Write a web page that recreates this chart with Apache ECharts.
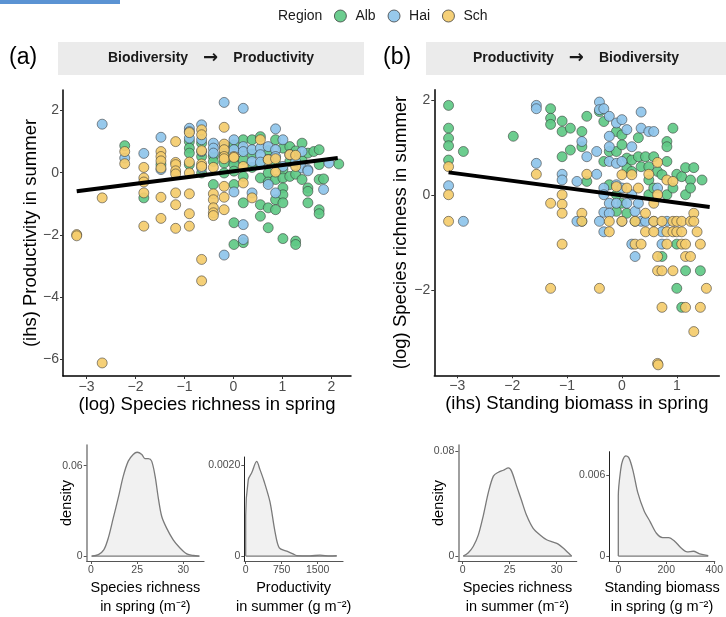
<!DOCTYPE html>
<html><head><meta charset="utf-8">
<script src="https://cdn.jsdelivr.net/npm/echarts@6/dist/echarts.min.js"></script>
<style>html,body{margin:0;padding:0;background:#fff}#c{width:726px;height:617px}</style>
</head><body><div id="c"></div>
<script>
// ---------- data ----------
const regions = ['Alb', 'Hai', 'Sch'];
const regionColors = ['#5FC986', '#8EC4EA', '#F4CC6C'];

// Panel (a): (log) species richness in spring vs (ihs) productivity in summer
const albA = [[-2.22,0.87],[-1.83,-0.81],[-1.48,0.26],[-0.90,1.0],[-0.90,0.79],[-0.90,0.63],[-0.90,0.26],[-0.65,0.95],[-0.65,0.52],[-0.65,-0.01],[-0.41,0.52],[-0.41,0.36],[-0.41,-0.38],[-0.19,0.31],[-0.19,-0.01],[-0.19,0.6],[0.01,0.9],[0.01,0.42],[0.01,0.26],[0.01,0.05],[0.01,-0.38],[0.01,-1.61],[0.01,-2.31],[0.2,1.06],[0.2,0.7],[0.2,0.42],[0.2,-0.12],[0.2,-0.97],[0.2,-2.25],[0.38,1.06],[0.38,0.6],[0.38,0.17],[0.55,1.16],[0.55,0.3],[0.55,-0.17],[0.55,-1.4],[0.55,-1.03],[0.71,0.71],[0.71,-0.01],[0.71,-0.3],[0.71,-1.77],[0.71,-1.13],[0.86,1.06],[0.86,0.3],[0.86,-0.22],[0.86,-0.87],[0.86,-1.19],[1.01,0.79],[1.01,0.1],[1.01,-0.17],[1.01,-0.49],[1.01,-0.71],[1.01,-0.97],[1.01,-2.12],[1.15,0.84],[1.15,0.36],[1.15,-0.12],[1.27,0.7],[1.27,-0.05],[1.27,-2.2],[1.27,-2.31],[1.4,0.95],[1.4,0.4],[1.4,-0.22],[1.52,0.63],[1.52,-0.49],[1.52,-0.6],[1.52,-0.97],[1.64,0.68],[1.75,0.74],[1.75,0.26],[1.75,-0.22],[1.75,-1.19],[1.75,-1.32],[1.84,-0.2],[2.15,0.28]];
const haiA = [[-2.68,1.56],[-2.22,0.47],[-1.83,0.62],[-1.48,1.14],[-1.48,0.1],[-0.90,1.43],[-0.90,1.32],[-0.90,1.11],[-0.65,1.54],[-0.65,1.06],[-0.65,0.68],[-0.65,0.15],[-0.41,0.95],[-0.41,0.79],[-0.41,0.63],[-0.19,2.26],[-0.19,0.84],[-0.19,-2.65],[0.01,1.06],[0.01,0.74],[0.01,-0.62],[0.2,2.07],[0.2,0.84],[0.2,0.68],[0.2,-1.67],[0.2,-2.15],[0.38,0.74],[0.38,0.36],[0.38,-0.65],[0.55,0.79],[0.55,0.58],[0.55,0.34],[0.71,0.84],[0.71,0.42],[0.71,-0.38],[0.86,1.41],[0.86,0.74],[0.86,0.52],[0.86,-0.65],[1.01,1.06],[1.01,0.2],[1.15,0.58],[1.27,0.36],[1.4,0.68],[1.4,0.15],[1.52,0.1],[1.52,0.06],[1.84,-0.54],[1.95,0.31]];
const schA = [[-3.2,-1.99],[-3.2,-2.03],[-2.68,-0.81],[-2.68,-6.12],[-2.22,0.68],[-2.22,0.29],[-1.83,0.17],[-1.83,-0.17],[-1.83,-0.30],[-1.83,-0.65],[-1.83,-1.72],[-1.48,0.68],[-1.48,0.52],[-1.48,0.38],[-1.48,0.15],[-1.48,-0.79],[-1.48,-1.47],[-1.18,1.0],[-1.18,0.33],[-1.18,0.26],[-1.18,0.06],[-1.18,-0.04],[-1.18,-0.65],[-1.18,-1.03],[-1.18,-1.79],[-0.90,1.29],[-0.90,0.34],[-0.90,-0.01],[-0.90,-0.68],[-0.90,-1.32],[-0.90,-1.72],[-0.65,1.38],[-0.65,1.22],[-0.65,0.71],[-0.65,0.28],[-0.65,0.2],[-0.65,-2.79],[-0.65,-3.48],[-0.41,0.17],[-0.41,-0.68],[-0.41,-0.87],[-0.41,-1.13],[-0.41,-1.29],[-0.41,-1.38],[-0.19,1.46],[-0.19,0.92],[-0.19,0.74],[-0.19,0.52],[-0.19,0.45],[-0.19,-0.44],[-0.19,-0.79],[-0.19,-1.19],[0.01,0.52],[0.01,0.49],[0.2,0.2],[0.2,-0.33],[0.38,-0.81],[0.55,1.06],[0.71,0.42],[0.86,0.45],[0.86,0.02],[1.15,0.58],[1.27,0.56],[1.27,0.2]];
const fitA = [[-3.2,-0.6],[2.13,0.47]];

// Panel (b): (ihs) standing biomass in spring vs (log) species richness in summer
const albB = [[-3.16,1.89],[-3.16,1.41],[-3.16,1.2],[-3.16,1.04],[-3.16,0.74],[-2.89,0.92],[-1.98,1.24],[-1.30,1.82],[-1.30,1.62],[-1.30,1.49],[-1.09,1.56],[-1.09,1.34],[-1.09,0.81],[-0.94,1.41],[-0.94,0.95],[-0.73,1.34],[-0.73,1.02],[-0.73,-0.55],[-0.64,1.66],[-0.64,0.29],[-0.41,1.76],[-0.33,1.55],[-0.33,0.71],[-0.23,0.92],[-0.23,0.22],[-0.10,1.34],[-0.10,0.92],[-0.10,0.01],[-0.10,-0.34],[0,1.27],[0,1.06],[0,-0.17],[0.09,0.78],[0.09,0.57],[0.09,-0.38],[0.18,0.74],[0.18,0.5],[0.24,-0.55],[0.30,1.21],[0.30,0.81],[0.35,0.6],[0.43,0.81],[0.49,0.6],[0.49,0.32],[0.49,0.01],[0.58,0.81],[0.58,0.15],[0.65,0.5],[0.73,0.43],[0.73,-1.29],[0.82,1.13],[0.82,1.02],[0.82,0.71],[0.82,0.01],[0.93,1.41],[0.93,0.15],[1.0,0.44],[1.0,-1.03],[1.0,-1.96],[1.09,0.39],[1.09,-2.36],[1.16,0.58],[1.16,0.01],[1.16,-1.59],[1.25,0.32],[1.25,0.15],[1.31,0.58],[1.43,-1.59],[1.46,0.32]];
const haiB = [[-3.16,0.2],[-2.89,-0.55],[-1.56,1.89],[-1.56,1.82],[-1.56,0.67],[-1.09,0.44],[-1.09,0.32],[-0.82,0.29],[-0.82,-0.55],[-0.73,1.13],[-0.64,0.81],[-0.46,0.92],[-0.46,0.44],[-0.41,1.96],[-0.41,1.8],[-0.41,-0.55],[-0.33,1.82],[-0.33,0.15],[-0.33,0.01],[-0.33,-0.36],[-0.33,-0.77],[-0.23,1.66],[-0.23,1.24],[-0.23,1.02],[-0.23,0.71],[-0.23,-0.17],[-0.23,-0.38],[-0.10,1.52],[-0.10,0.67],[-0.10,-0.17],[-0.10,0.22],[0,1.59],[0,0.71],[0,0.15],[0,-0.55],[0.09,1.38],[0.09,-0.17],[0.18,1.02],[0.18,0.01],[0.18,-1.03],[0.24,-1.29],[0.24,-0.34],[0.30,-0.17],[0.35,1.75],[0.35,1.41],[0.35,-0.55],[0.43,-0.55],[0.49,1.34],[0.58,1.34],[0.58,-0.55],[0.65,0.15],[0.73,-0.77],[0.73,-1.03],[0.82,-0.55]];
const schB = [[-3.16,0.6],[-3.16,0.01],[-3.16,-0.55],[-1.56,0.44],[-1.30,-0.17],[-1.30,-1.96],[-1.09,0.01],[-1.09,-0.19],[-1.09,-0.38],[-1.09,-1.03],[-0.73,-0.38],[-0.73,-0.55],[-0.64,0.44],[-0.41,-1.96],[-0.23,-0.55],[-0.23,-0.77],[-0.10,0.18],[0,0.43],[0,-0.55],[0.09,0.15],[0.18,0.43],[0.24,-1.03],[0.24,-0.55],[0.30,0.15],[0.35,-1.03],[0.43,-0.38],[0.43,-0.77],[0.49,0.44],[0.58,-0.77],[0.58,-0.17],[0.58,-0.55],[0.65,0.69],[0.65,0.01],[0.65,-1.29],[0.65,-1.59],[0.65,-3.54],[0.66,-3.57],[0.73,-0.55],[0.73,-2.36],[0.73,-1.59],[0.82,0.32],[0.82,-0.77],[0.82,-1.03],[0.93,0.29],[0.93,-0.55],[0.93,-0.77],[0.93,-1.59],[1.0,-0.55],[1.0,-0.77],[1.09,-1.03],[1.09,-0.55],[1.09,-0.77],[1.16,-1.29],[1.16,-2.36],[1.16,-1.03],[1.25,-0.55],[1.25,-1.29],[1.31,-0.38],[1.31,-2.87],[1.31,-0.55],[1.37,-0.77],[1.43,-1.03],[1.43,-2.36],[1.54,-1.96]];
const fitB = [[-3.16,0.48],[1.6,-0.25]];

// Main axes ticks
const ticksAX = [-3,-2,-1,0,1,2];
const ticksAY = [-6,-4,-2,0,2];
const ticksBX = [-3,-2,-1,0,1];
const ticksBY = [-2,0,2];

// Density curves
const densRichSpring = [[0.2,0],[2.4,0.001],[4.2,0.0043],[5.6,0.0119],[7.2,0.025],[8.9,0.0391],[10.5,0.0532],[12.1,0.063],[13.7,0.0674],[15.0,0.0689],[16.5,0.0674],[17.5,0.0646],[18.6,0.0646],[19.7,0.063],[20.8,0.0532],[21.9,0.038],[23.0,0.0261],[24.6,0.0184],[26.7,0.0108],[28.9,0.0054],[31.1,0.0015],[33.2,0.0004],[35.2,0]];
const densProdSummer = [[0,0],[0,0.00089],[54,0.00168],[125,0.00183],[229,0.00208],[298,0.0019],[381,0.00165],[506,0.00119],[610,0.00054],[700,0.00018],[854,0.00011],[985,0.00005],[1063,0.00001],[1340,0.000005],[1548,0.00002],[1756,0.000003],[1896,0.00001]];
const densRichSummer = [[0.2,0],[1.8,0.0025],[3.4,0.0075],[5.0,0.0162],[6.6,0.0312],[8.2,0.0487],[9.8,0.0612],[11.4,0.0642],[13.0,0.0657],[14.6,0.0675],[15.6,0.065],[17.2,0.0537],[18.8,0.0425],[20.4,0.0312],[22.5,0.0212],[24.7,0.0162],[26.8,0.0125],[28.9,0.0107],[30.5,0.0092],[32.1,0.0062],[33.7,0.0025],[34.8,0]];
const densBiomassSpring = [[0,0],[0,0.0045],[10,0.00644],[19,0.00717],[32,0.00746],[45,0.00729],[62,0.00631],[81,0.00474],[107,0.0034],[133,0.00255],[159,0.0017],[185,0.00138],[210,0.00138],[236,0.00109],[262,0.0006],[287,0.00031],[313,0.00036],[339,0.00017],[375,0.00004]];

const richTickVals = [0,15,30];
const richTickLabels = ['0','25','30'];
const prodTickVals = [0,750,1500];
const biomassTickVals = [0,200,400];

// ---------- chart ----------
const FONT = '"Liberation Sans", Arial, Helvetica, sans-serif';
const minus = v => (v < 0 ? '\u2212' + Math.abs(v) : String(v));

function mainAxis(grid, min, max, ticks, name, nameGap) {
  return {
    type: 'value', gridIndex: grid, min: min, max: max,
    axisLine: { show: true, onZero: false, lineStyle: { color: '#000', width: 1.5 } },
    axisTick: { show: true, customValues: ticks, length: 3, lineStyle: { color: '#333', width: 1 } },
    axisLabel: { customValues: ticks, formatter: minus, color: '#4d4d4d', fontSize: 14, fontFamily: FONT, margin: 4 },
    splitLine: { show: false },
    name: name, nameLocation: 'middle', nameGap: nameGap, nameMoveOverlap: false,
    nameTextStyle: { fontSize: 18.5, color: '#000', fontFamily: FONT }
  };
}
function densX(grid, min, max, vals, labels, name) {
  return {
    type: 'value', gridIndex: grid, min: min, max: max,
    axisLine: { show: true, onZero: false, lineStyle: { color: '#555', width: 1.2 } },
    axisTick: { show: true, customValues: vals, length: 3, lineStyle: { color: '#555' } },
    axisLabel: { customValues: vals, formatter: v => labels[vals.indexOf(v)] ?? String(v), color: '#4d4d4d', fontSize: 10.5, fontFamily: FONT, margin: 4 },
    splitLine: { show: false },
    name: name, nameLocation: 'middle', nameGap: 17, nameMoveOverlap: false,
    nameTextStyle: { fontSize: 14.5, color: '#000', fontFamily: FONT, lineHeight: 19 }
  };
}
function densY(grid, min, max, vals, labels, lineColor, lineWidth, name) {
  return {
    type: 'value', gridIndex: grid, min: min, max: max,
    axisLine: { show: true, onZero: false, lineStyle: { color: lineColor, width: lineWidth } },
    axisTick: { show: true, customValues: vals, length: 3, lineStyle: { color: '#555' } },
    axisLabel: { customValues: vals, formatter: v => labels[vals.indexOf(v)] ?? String(v), color: '#4d4d4d', fontSize: 10.5, fontFamily: FONT, margin: 4 },
    splitLine: { show: false },
    name: name || '', nameLocation: 'middle', nameGap: 12, nameMoveOverlap: false,
    nameTextStyle: { fontSize: 14.5, color: '#000', fontFamily: FONT }
  };
}
function scatter(name, data, idx, color) {
  return {
    type: 'scatter', name: name, data: data, xAxisIndex: idx, yAxisIndex: idx,
    symbol: 'circle', symbolSize: 10, silent: true,
    itemStyle: { color: color, opacity: 0.92, borderColor: '#333', borderWidth: 0.6 }
  };
}
function fitLine(data, idx) {
  return { type: 'line', data: data, xAxisIndex: idx, yAxisIndex: idx, symbol: 'none', silent: true, z: 5,
    lineStyle: { color: '#000', width: 4 } };
}
function density(data, idx) {
  return { type: 'line', data: data, xAxisIndex: idx, yAxisIndex: idx, symbol: 'none', silent: true,
    smooth: 0.3, lineStyle: { color: '#7a7a7a', width: 1.3 }, areaStyle: { color: '#f1f1f1', opacity: 1 } };
}
function baseline(data, idx) {
  return { type: 'line', data: [[data[0][0], 0], [data[data.length - 1][0], 0]], xAxisIndex: idx, yAxisIndex: idx,
    symbol: 'none', silent: true, lineStyle: { color: '#7a7a7a', width: 1.3 } };
}
function stripText(x, left, right) {
  return { type: 'text', x: x, y: 58.5, style: {
    text: '{b|' + left + '}{a|\u2192}{b|' + right + '}',
    align: 'center', verticalAlign: 'middle',
    rich: {
      b: { fontSize: 14, fontWeight: 'bold', fontFamily: FONT, fill: '#1a1a1a', color: '#1a1a1a' },
      a: { fontSize: 18, fontWeight: 'bold', fontFamily: '"DejaVu Sans", sans-serif', fill: '#1a1a1a', color: '#1a1a1a', padding: [0, 15, 0, 15] }
    }
  } };
}

const chart = echarts.init(document.getElementById('c'), null, { renderer: 'canvas' });
chart.setOption({
  animation: false,
  backgroundColor: '#fff',
  textStyle: { fontFamily: FONT },
  legend: {
    data: regions, left: 334, top: 9, padding: 0, itemWidth: 12, itemHeight: 12, itemGap: 12,
    icon: 'circle', selectedMode: false,
    itemStyle: { borderColor: '#333', borderWidth: 0.8 },
    textStyle: { fontSize: 14, color: '#1a1a1a', fontFamily: FONT, padding: [0, 0, 0, 4] }
  },
  grid: [
    { left: 63, top: 90, width: 288, height: 286 },
    { left: 434.3, top: 89.7, width: 285, height: 285.6 },
    { left: 86.7, top: 445, width: 117.3, height: 118.3 },
    { left: 244.3, top: 457, width: 98.7, height: 106.3 },
    { left: 458.3, top: 445, width: 118.4, height: 118.3 },
    { left: 609.3, top: 451.7, width: 113.7, height: 111.6 }
  ],
  xAxis: [
    mainAxis(0, -3.48, 2.40, ticksAX, '(log) Species richness in spring', 19),
    mainAxis(1, -3.42, 1.775, ticksBX, '(ihs) Standing biomass in spring', 19),
    densX(2, -1.4, 36.7, richTickVals, richTickLabels, 'Species richness\nin spring (m\u207B\u00B2)'),
    densX(3, -29, 2027, prodTickVals, ['0','750','1500'], 'Productivity\nin summer (g m\u207B\u00B2)'),
    densX(4, -1.4, 36.4, richTickVals, richTickLabels, 'Species richness\nin summer (m\u207B\u00B2)'),
    densX(5, -37.5, 402, biomassTickVals, ['0','200','400'], 'Standing biomass\nin spring (g m\u207B\u00B2)')
  ],
  yAxis: [
    mainAxis(0, -6.54, 2.66, ticksAY, '(ihs) Productivity in summer', 23),
    mainAxis(1, -3.79, 2.22, ticksBY, '(log) Species richness in summer', 24),
    densY(2, -0.00325, 0.0737, [0, 0.06], ['0', '0.06'], '#888', 1.6, 'density'),
    densY(3, -0.000108, 0.002178, [0, 0.002], ['0', '0.0020'], '#222', 1),
    densY(4, -0.00375, 0.085, [0, 0.08], ['0', '0.08'], '#888', 1.6, 'density'),
    densY(5, -0.000365, 0.00777, [0, 0.006], ['0', '0.006'], '#222', 1)
  ],
  graphic: [
    { type: 'rect', shape: { x: 0, y: 0, width: 120, height: 4 }, style: { fill: '#5b93d3' } },
    { type: 'text', x: 278, y: 15.7, style: { text: 'Region', fontSize: 14, fontFamily: FONT, fill: '#1a1a1a', align: 'left', verticalAlign: 'middle' } },
    { type: 'rect', shape: { x: 58, y: 42, width: 306, height: 33 }, style: { fill: '#ebebeb' } },
    { type: 'rect', shape: { x: 426, y: 42, width: 300, height: 33 }, style: { fill: '#ebebeb' } },
    stripText(211, 'Biodiversity', 'Productivity'),
    stripText(576, 'Productivity', 'Biodiversity'),
    { type: 'text', x: 9, y: 58, style: { text: '(a)', font: '23px ' + FONT, fill: '#000', align: 'left', verticalAlign: 'middle' } },
    { type: 'text', x: 383, y: 58, style: { text: '(b)', font: '23px ' + FONT, fill: '#000', align: 'left', verticalAlign: 'middle' } }
  ],
  series: [
    scatter('Alb', albA, 0, regionColors[0]),
    scatter('Hai', haiA, 0, regionColors[1]),
    scatter('Sch', schA, 0, regionColors[2]),
    fitLine(fitA, 0),
    scatter('Alb', albB, 1, regionColors[0]),
    scatter('Hai', haiB, 1, regionColors[1]),
    scatter('Sch', schB, 1, regionColors[2]),
    fitLine(fitB, 1),
    density(densRichSpring, 2), baseline(densRichSpring, 2),
    density(densProdSummer, 3), baseline(densProdSummer, 3),
    density(densRichSummer, 4), baseline(densRichSummer, 4),
    density(densBiomassSpring, 5), baseline(densBiomassSpring, 5)
  ]
});
</script></body></html>
